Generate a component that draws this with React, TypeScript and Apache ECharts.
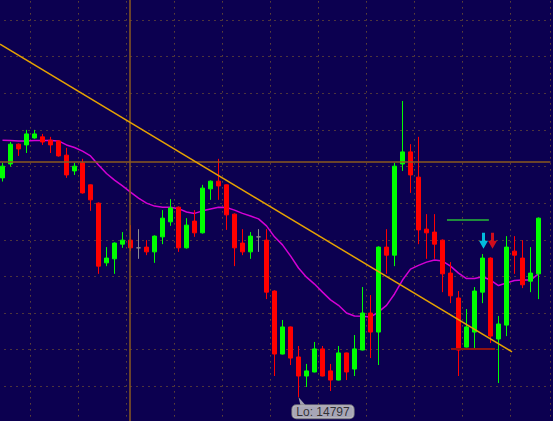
import React, { useEffect, useRef } from "react";
import * as echarts from "echarts";

// Bar numbers (one-minute bars)
const categories: string[] = Array.from({ length: 69 }, (_, i) => String(i + 1));

const opens = [
  14856.9, 14860.7, 14866.1, 14865.9, 14867.8, 14868.1, 14867.2, 14867.0, 14863.1, 14858.8,
  14861.0, 14855.0, 14850.0, 14833.7, 14834.8, 14838.8, 14839.9, 14837.8, 14838.0, 14836.7,
  14840.8, 14844.9, 14848.9, 14837.8, 14845.1, 14841.9, 14853.9, 14856.0, 14855.0, 14847.0,
  14839.1, 14836.7, 14840.8, 14839.9, 14826.0, 14808.8, 14816.2, 14808.0, 14802.8, 14803.9,
  14810.2, 14804.2, 14801.7, 14809.1, 14804.7, 14809.9, 14820.0, 14814.8, 14838.0, 14835.8,
  14860.7, 14864.0, 14857.1, 14842.9, 14842.1, 14839.9, 14830.9, 14824.1, 14810.7, 14814.8,
  14825.7, 14835.0, 14812.9, 14816.7, 14836.9, 14835.0, 14828.7, 14830.7,
];
const closes = [
  14860.1, 14866.1, 14864.8, 14868.9, 14868.9, 14866.7, 14865.9, 14862.9, 14857.7, 14860.1,
  14852.8, 14850.9, 14832.8, 14835.0, 14839.1, 14839.9, 14837.8, 14837.8, 14836.7, 14841.0,
  14845.9, 14848.7, 14837.8, 14844.0, 14841.9, 14854.1, 14856.0, 14854.7, 14846.8, 14837.8,
  14836.7, 14841.0, 14840.8, 14825.7, 14808.8, 14816.2, 14807.7, 14802.8, 14804.2, 14810.2,
  14802.8, 14801.7, 14809.1, 14803.9, 14810.2, 14820.0, 14814.8, 14838.0, 14835.8, 14860.1,
  14864.0, 14857.7, 14842.7, 14841.9, 14838.8, 14830.7, 14824.7, 14809.9, 14816.2, 14826.0,
  14835.0, 14813.7, 14817.0, 14838.0, 14835.8, 14827.7, 14830.9, 14845.9,
];
const highs = [
  14861.0, 14866.7, 14866.3, 14870.0, 14870.0, 14868.9, 14868.1, 14867.1, 14865.1, 14861.0,
  14862.1, 14855.1, 14850.2, 14838.0, 14839.3, 14842.1, 14844.0, 14842.9, 14839.9, 14841.2,
  14848.1, 14851.1, 14849.1, 14845.9, 14848.1, 14855.0, 14856.2, 14862.1, 14855.1, 14847.2,
  14842.9, 14842.1, 14842.9, 14842.9, 14826.2, 14818.1, 14816.3, 14811.0, 14806.1, 14812.1,
  14811.0, 14806.1, 14811.0, 14809.2, 14814.0, 14827.1, 14824.9, 14838.2, 14842.9, 14861.0,
  14877.9, 14866.1, 14868.1, 14847.0, 14847.0, 14840.1, 14833.9, 14826.0, 14821.1, 14827.1,
  14836.1, 14835.2, 14819.2, 14841.0, 14841.0, 14839.9, 14838.0, 14846.1,
];
const lows = [
  14855.9, 14860.0, 14862.9, 14863.7, 14867.6, 14865.9, 14863.7, 14862.7, 14856.9, 14857.7,
  14852.6, 14847.9, 14830.7, 14832.8, 14830.7, 14837.8, 14836.9, 14834.8, 14835.8, 14833.7,
  14838.8, 14843.8, 14836.7, 14837.6, 14840.8, 14841.7, 14850.9, 14850.9, 14842.7, 14832.8,
  14835.8, 14834.8, 14836.7, 14823.8, 14802.8, 14808.7, 14805.8, 14797.0, 14799.8, 14803.8,
  14802.7, 14798.7, 14801.6, 14801.7, 14802.8, 14809.8, 14807.7, 14805.8, 14830.7, 14832.8,
  14858.8, 14852.8, 14838.8, 14834.8, 14834.8, 14825.7, 14822.7, 14802.8, 14810.6, 14809.9,
  14822.7, 14811.8, 14800.9, 14813.7, 14830.7, 14826.8, 14825.7, 14823.8,
];
const movingAverage = [
  14867.2, 14867.1, 14867.0, 14867.0, 14867.1, 14867.1, 14867.1, 14867.0, 14865.9, 14865.2,
  14864.2, 14862.9, 14860.4, 14858.1, 14856.3, 14854.7, 14853.0, 14851.4, 14850.0, 14849.2,
  14848.9, 14848.9, 14848.5, 14847.6, 14847.2, 14847.9, 14848.4, 14848.9, 14848.8, 14848.1,
  14847.2, 14846.5, 14845.7, 14843.8, 14840.8, 14838.6, 14835.6, 14832.3, 14829.8, 14827.9,
  14825.7, 14823.6, 14822.1, 14820.0, 14819.2, 14819.1, 14818.9, 14820.3, 14822.1, 14825.2,
  14829.0, 14832.0, 14833.0, 14833.9, 14834.5, 14834.2, 14832.8, 14830.9, 14829.4, 14829.4,
  14829.9, 14829.0, 14827.5, 14828.2, 14828.9, 14829.0, 14829.0, 14830.7,
];

// Drawn objects (x in bar index units, y in price)
const trendX = [-0.31, 63.69];
const trendY = [14893.4, 14809.4];
const levelPrice = 14861.2;
const timeMarker = 15.85;
const greenLevelX = [55.56, 60.8];
const greenLevelY = 14845.4;
const redLevelX = [56.06, 61.56];
const redLevelY = 14810.2;
const arrowCyan = [60.125, 14839.7];
const arrowRed = [61.25, 14839.7];

const yTicks = { min: 14790, max: 14910, step: 10 };

const GRID_DOT = { type: [1, 5] as any, color: "#8f6a26", width: 1 };
const ARROW = "path://M3,0 L6,0 L6,8 L9,8 L4.5,16 L0,8 L3,8 Z";

export default function App() {
  const ref = useRef<HTMLDivElement>(null);
  useEffect(() => {
    if (!ref.current) return;
    const chart = echarts.init(ref.current, undefined, { renderer: "svg" });
    const lowMin = Math.min(...lows);
    const lowIdx = lows.indexOf(lowMin);
    chart.setOption({
      animation: false,
      backgroundColor: "#0c0050",
      grid: {
        left: -1.5,
        right: 2.5,
        top: -16.6,
        bottom: -1.9,
        containLabel: false,
        outerBoundsMode: "none",
      },
      xAxis: [
        {
          type: "category",
          data: categories,
          boundaryGap: true,
          axisLine: { show: false },
          axisTick: { show: false },
          axisLabel: { show: false },
          splitLine: {
            show: true,
            interval: (idx: number) => idx % 6 === 4,
            lineStyle: GRID_DOT,
          },
        },
        { type: "value", min: -0.5, max: 68.5, show: false },
      ],
      yAxis: {
        type: "value",
        min: yTicks.min,
        max: yTicks.max,
        interval: yTicks.step,
        axisLine: { show: false },
        axisTick: { show: false },
        axisLabel: { show: false },
        splitLine: { show: true, lineStyle: GRID_DOT },
      },
      series: [
        {
          type: "line",
          name: "MA",
          xAxisIndex: 0,
          data: movingAverage,
          symbol: "none",
          lineStyle: { color: "#d400d4", width: 1.5 },
          z: 2,
        },
        {
          type: "candlestick",
          xAxisIndex: 0,
          data: opens.map((o, i) => [o, closes[i], lows[i], highs[i]]),
          barWidth: 4,
          itemStyle: {
            color: "#00ff00",
            color0: "#ff0000",
            borderColor: "#00ff00",
            borderColor0: "#ff0000",
            borderColorDoji: "#8c8c8c",
            borderWidth: 1,
          },
          z: 3,
        },
        {
          type: "line",
          xAxisIndex: 1,
          data: [[greenLevelX[0], greenLevelY], [greenLevelX[1], greenLevelY]],
          symbol: "none",
          lineStyle: { color: "#1f8c3c", width: 2 },
          z: 4,
        },
        {
          type: "line",
          xAxisIndex: 1,
          data: [[redLevelX[0], redLevelY], [redLevelX[1], redLevelY]],
          symbol: "none",
          lineStyle: { color: "#8e1212", width: 2 },
          z: 4,
        },
        {
          type: "line",
          xAxisIndex: 1,
          data: [[trendX[0], trendY[0]], [trendX[1], trendY[1]]],
          symbol: "none",
          lineStyle: { color: "#e6a200", width: 1.5 },
          z: 5,
          markLine: {
            silent: true,
            symbol: ["none", "none"],
            label: { show: false },
            lineStyle: { color: "#8b5a1e", width: 1.5, type: "solid" },
            data: [{ yAxis: levelPrice }, { xAxis: timeMarker }],
          },
        },
        {
          type: "scatter",
          xAxisIndex: 1,
          data: [arrowCyan],
          symbol: ARROW,
          symbolSize: [9, 16],
          itemStyle: { color: "#00e8ff" },
          z: 6,
        },
        {
          type: "scatter",
          xAxisIndex: 1,
          data: [arrowRed],
          symbol: ARROW,
          symbolSize: [9, 16],
          itemStyle: { color: "#ff1010" },
          z: 6,
        },
        {
          type: "scatter",
          xAxisIndex: 0,
          data: [[lowIdx, lowMin]],
          symbol: "path://M0,0 L2,8 L7,8 Z",
          symbolSize: [7, 8],
          symbolOffset: [3.5, 4],
          itemStyle: { color: "#c8c8c8" },
          label: {
            show: true,
            position: "bottom",
            distance: 0,
            offset: [21, 0],
            formatter: () => "Lo: " + lowMin.toFixed(0),
            backgroundColor: "#cfcfcf",
            borderColor: "#8a8a8a",
            borderWidth: 1,
            borderRadius: 4,
            padding: [1, 4, 0, 4],
            color: "#111111",
            fontSize: 12,
            lineHeight: 12,
            fontFamily: "Liberation Sans",
          },
          z: 7,
        },
      ],
    });
    return () => chart.dispose();
  }, []);
  return (
    <div
      ref={ref}
      style={{ position: "absolute", left: 0, top: 0, width: 553, height: 421 }}
    />
  );
}
